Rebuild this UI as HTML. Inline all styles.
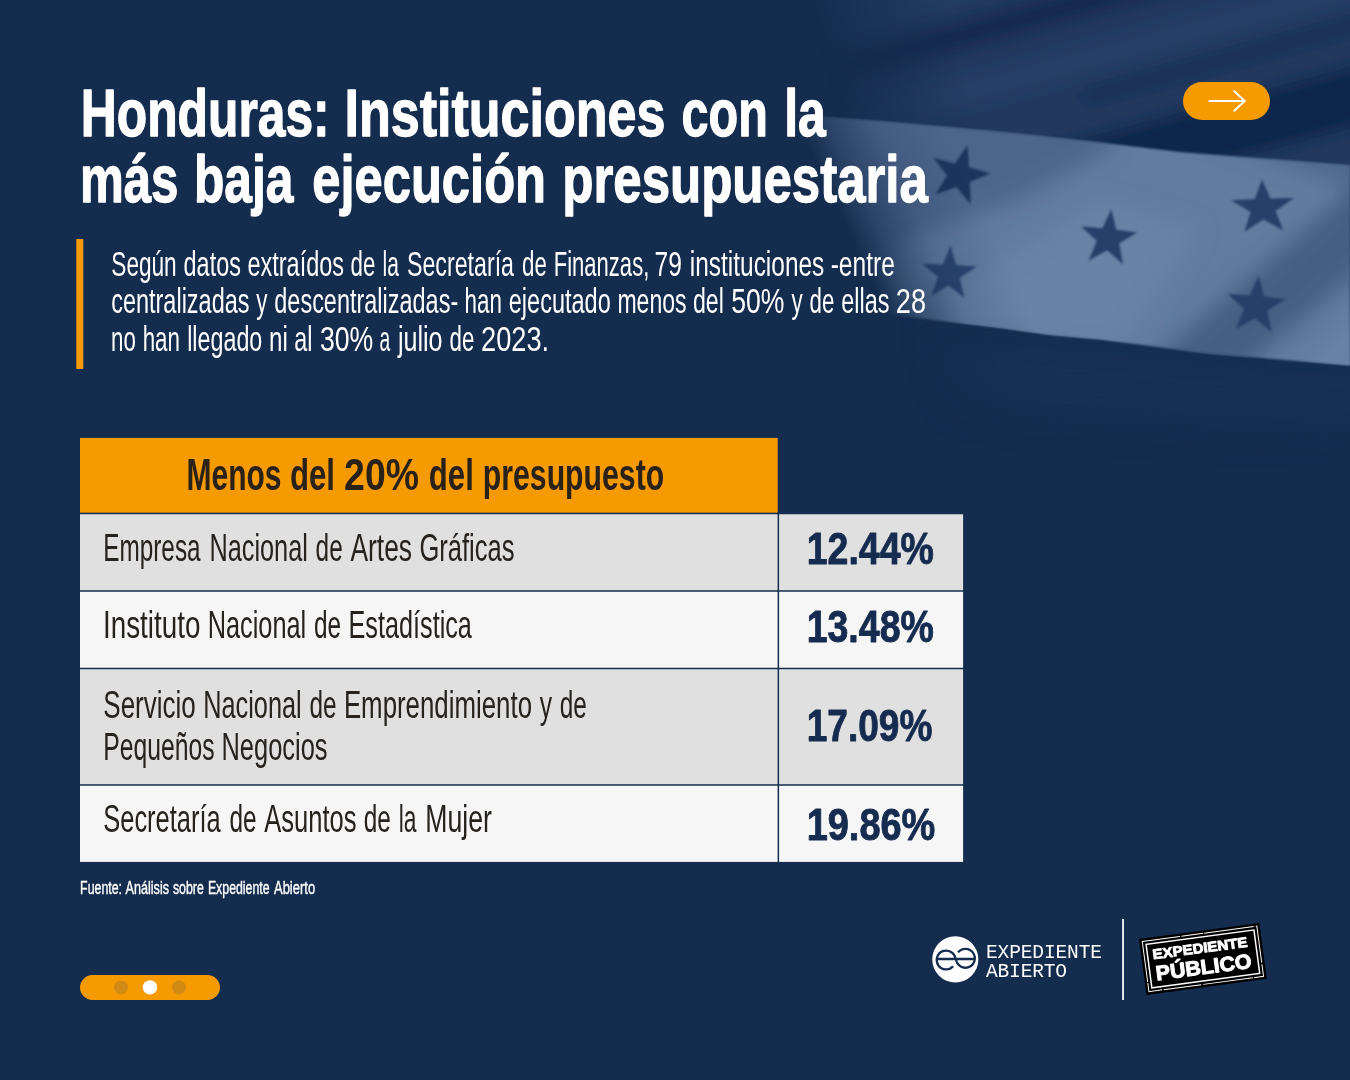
<!DOCTYPE html>
<html lang="es"><head><meta charset="utf-8"><title>Honduras: Instituciones con la más baja ejecución presupuestaria</title>
<style>
html,body{margin:0;padding:0;background:#142c4e;}
body{width:1350px;height:1080px;overflow:hidden;font-family:"Liberation Sans",sans-serif;}
svg{display:block;}
text{white-space:pre;}
</style></head><body>
<svg width="1350" height="1080" viewBox="0 0 1350 1080" font-family="'Liberation Sans', sans-serif">
<rect width="1350" height="1080" fill="#142c4e"/>

<defs>
 <linearGradient id="fadeL" x1="812" y1="20" x2="940" y2="-14" gradientUnits="userSpaceOnUse">
  <stop offset="0" stop-color="#000"/><stop offset="1" stop-color="#fff"/>
 </linearGradient>
 <linearGradient id="fadeD" x1="850" y1="237" x2="968" y2="182" gradientUnits="userSpaceOnUse">
  <stop offset="0" stop-color="#000"/><stop offset="0.22" stop-color="#6a6a6a"/><stop offset="0.55" stop-color="#d0d0d0"/><stop offset="1" stop-color="#fff"/>
 </linearGradient>
 <linearGradient id="fadeB" x1="0" y1="350" x2="0" y2="490" gradientUnits="userSpaceOnUse">
  <stop offset="0" stop-color="#fff"/><stop offset="1" stop-color="#000"/>
 </linearGradient>
 <mask id="mL" maskUnits="userSpaceOnUse" x="600" y="-50" width="800" height="700">
  <rect x="600" y="-50" width="800" height="700" fill="url(#fadeL)"/>
 </mask>
 <mask id="mD" maskUnits="userSpaceOnUse" x="600" y="-50" width="800" height="700">
  <rect x="600" y="-50" width="800" height="700" fill="url(#fadeD)"/>
 </mask>
 <mask id="mB" maskUnits="userSpaceOnUse" x="600" y="-50" width="800" height="700">
  <rect x="600" y="-50" width="800" height="700" fill="url(#fadeB)"/>
 </mask>
 <filter id="b2" filterUnits="userSpaceOnUse" x="600" y="-100" width="900" height="800"><feGaussianBlur stdDeviation="1.0"/></filter>
 <filter id="b8" filterUnits="userSpaceOnUse" x="500" y="-200" width="1100" height="1000"><feGaussianBlur stdDeviation="9"/></filter>
 <filter id="b12" filterUnits="userSpaceOnUse" x="600" y="-100" width="900" height="800"><feGaussianBlur stdDeviation="11"/></filter>
 <filter id="b20" filterUnits="userSpaceOnUse" x="500" y="-200" width="1100" height="1000"><feGaussianBlur stdDeviation="18"/></filter>
 <clipPath id="bandclip"><path d="M760,111 L826,117 L900,123 L1000,132 L1100,142.5 L1180,152 L1350,165.5 L1350,365.5 L1205,353 L1100,339.5 L1050,335 L1000,328 L900,316 L760,303 Z"/></clipPath>
</defs>
<!-- upper & lower blue stripes of the flag -->
<g mask="url(#mL)">
 <g mask="url(#mB)">
  <g filter="url(#b8)">
   <path d="M780,-60 L1450,-60 L1450,200 L780,130 Z" fill="#21395f"/>
   <g transform="rotate(-15)">
    <rect x="650" y="150" width="900" height="100" fill="#243d64"/>
    <rect x="650" y="268" width="900" height="30" fill="#142c4e"/>
    <rect x="650" y="322" width="900" height="34" fill="#253e65"/>
    <rect x="1020" y="366" width="500" height="16" fill="#172f53"/>
    <rect x="650" y="414" width="900" height="60" fill="#11284a"/>
   </g>
  </g>
  <g filter="url(#b20)" opacity="0.45">
   <path d="M900,335 L1450,385 L1450,450 L900,410 Z" fill="#1f3860"/>
  </g>
 </g>
</g>
<!-- light middle band with stars -->
<g mask="url(#mD)">
  <g filter="url(#b2)">
   <path d="M760,111 L826,117 L900,123 L1000,132 L1100,142.5 L1180,152 L1350,165.5 L1350,365.5 L1205,353 L1100,339.5 L1050,335 L1000,328 L900,316 L760,303 Z" fill="#627b9f"/>
  </g>
  <g clip-path="url(#bandclip)">
   <g filter="url(#b12)">
    <path d="M760,90 L1140,90 L1110,150 L1010,205 L900,240 L850,310 L760,330 Z" fill="#3a5278" opacity="0.52"/>
    <path d="M1135,375 L1235,375 L1380,255 L1380,165 Z" fill="#3a5076" opacity="0.68"/>
    <path d="M1190,130 L1380,150 L1380,200 Z" fill="#435b82" opacity="0.6"/>
    <path d="M940,300 L1100,200 L1200,230 L1120,350 L960,340 Z" fill="#6f88ac" opacity="0.5"/>
    <path d="M1280,390 L1380,290 L1380,390 Z" fill="#6f88ac" opacity="0.5"/>
   </g>
   <g filter="url(#b2)">
    <polygon fill="#1d345c" points="967.5,145.1 969.1,167.2 990.5,173.4 969.9,181.8 970.6,203.9 956.3,187.0 935.4,194.5 947.1,175.6 933.5,158.1 955.1,163.4"/>
    <polygon fill="#2b4570" points="950.5,245.5 956.2,265.1 976.5,266.6 959.6,278.1 964.5,297.9 948.4,285.4 931.1,296.1 938.0,277.0 922.4,263.8 942.8,264.4"/>
    <polygon fill="#263f69" points="1111.4,209.2 1116.2,229.7 1137.2,232.4 1119.1,243.3 1123.0,264.0 1107.1,250.2 1088.6,260.4 1096.8,241.0 1081.4,226.5 1102.4,228.3"/>
    <polygon fill="#263f69" points="1262.0,179.5 1270.4,198.5 1294.1,198.1 1275.7,211.1 1283.2,230.4 1263.4,219.4 1244.4,231.7 1250.6,212.0 1231.3,200.3 1254.9,199.1"/>
    <polygon fill="#263f69" points="1258.7,275.6 1264.0,296.8 1285.7,299.1 1267.2,310.8 1271.7,332.1 1254.9,318.2 1236.0,329.0 1244.1,308.7 1227.9,294.1 1249.7,295.5"/>
   </g>
  </g>
</g>


<rect x="76.3" y="239" width="7" height="130" fill="#f69a02"/>
<rect x="1183" y="82" width="87" height="38" rx="19" fill="#f69a02"/>
<path d="M1209.5,101 H1244.5 M1234.3,91.2 L1244.8,101 L1234.3,110.8" fill="none" stroke="#fff" stroke-width="2" stroke-linecap="round" stroke-linejoin="miter"/>
<rect x="80" y="975" width="140" height="25" rx="12.5" fill="#f69a02"/>
<circle cx="121" cy="987.4" r="7" fill="#d18a14"/>
<circle cx="150" cy="987.4" r="7.2" fill="#ffffff"/>
<circle cx="179" cy="987.4" r="7" fill="#d18a14"/>


<rect x="80" y="437.9" width="697.7" height="75" fill="#f69a02"/>
<rect x="80" y="513" width="883.1" height="78" fill="#e0e0e0"/>
<rect x="80" y="591" width="883.1" height="77.5" fill="#f6f6f6"/>
<rect x="80" y="668.4" width="883.1" height="116.6" fill="#e0e0e0"/>
<rect x="80" y="784.9" width="883.1" height="77" fill="#f6f6f6"/>
<g stroke="#142c4e" stroke-width="1.5" fill="none">
 <line x1="79" y1="513.55" x2="964" y2="513.55"/>
 <line x1="79" y1="591.05" x2="964" y2="591.05"/>
 <line x1="79" y1="668.4" x2="964" y2="668.4"/>
 <line x1="79" y1="784.9" x2="964" y2="784.9"/>
 <line x1="778.35" y1="512.8" x2="778.35" y2="863"/>
</g>

<g id="title" font-size="67.5" font-weight="700" fill="#ffffff" stroke="#ffffff" stroke-width="1.3" stroke-linejoin="round">
<text y="135.9"><tspan x="80.8" textLength="248.9" lengthAdjust="spacingAndGlyphs">Honduras:</tspan> <tspan x="344.5" textLength="321.0" lengthAdjust="spacingAndGlyphs">Instituciones</tspan> <tspan x="681.5" textLength="86.3" lengthAdjust="spacingAndGlyphs">con</tspan> <tspan x="784.2" textLength="41.6" lengthAdjust="spacingAndGlyphs">la</tspan></text>
<text y="202.1"><tspan x="79.9" textLength="98.6" lengthAdjust="spacingAndGlyphs">más</tspan> <tspan x="194.0" textLength="99.5" lengthAdjust="spacingAndGlyphs">baja</tspan> <tspan x="312.2" textLength="233.9" lengthAdjust="spacingAndGlyphs">ejecución</tspan> <tspan x="562.3" textLength="365.6" lengthAdjust="spacingAndGlyphs">presupuestaria</tspan></text>
</g>
<g id="para" font-size="35.0" font-weight="400" fill="#ffffff">
<text y="275.9"><tspan x="111.3" textLength="65.4" lengthAdjust="spacingAndGlyphs">Según</tspan> <tspan x="183.6" textLength="57.3" lengthAdjust="spacingAndGlyphs">datos</tspan> <tspan x="247.4" textLength="96.7" lengthAdjust="spacingAndGlyphs">extraídos</tspan> <tspan x="350.6" textLength="24.8" lengthAdjust="spacingAndGlyphs">de</tspan> <tspan x="382.6" textLength="16.3" lengthAdjust="spacingAndGlyphs">la</tspan> <tspan x="407.0" textLength="107.0" lengthAdjust="spacingAndGlyphs">Secretaría</tspan> <tspan x="522.1" textLength="24.8" lengthAdjust="spacingAndGlyphs">de</tspan> <tspan x="553.7" textLength="95.6" lengthAdjust="spacingAndGlyphs">Finanzas,</tspan> <tspan x="654.6" textLength="27.4" lengthAdjust="spacingAndGlyphs">79</tspan> <tspan x="689.8" textLength="134.5" lengthAdjust="spacingAndGlyphs">instituciones</tspan> <tspan x="830.7" textLength="64.2" lengthAdjust="spacingAndGlyphs">-entre</tspan></text>
<text y="313.4"><tspan x="111.2" textLength="138.3" lengthAdjust="spacingAndGlyphs">centralizadas</tspan> <tspan x="256.2" textLength="11.2" lengthAdjust="spacingAndGlyphs">y</tspan> <tspan x="274.3" textLength="183.9" lengthAdjust="spacingAndGlyphs">descentralizadas-</tspan> <tspan x="464.6" textLength="37.3" lengthAdjust="spacingAndGlyphs">han</tspan> <tspan x="508.8" textLength="101.9" lengthAdjust="spacingAndGlyphs">ejecutado</tspan> <tspan x="617.4" textLength="69.2" lengthAdjust="spacingAndGlyphs">menos</tspan> <tspan x="693.0" textLength="30.9" lengthAdjust="spacingAndGlyphs">del</tspan> <tspan x="731.3" textLength="53.2" lengthAdjust="spacingAndGlyphs">50%</tspan> <tspan x="791.5" textLength="11.2" lengthAdjust="spacingAndGlyphs">y</tspan> <tspan x="809.6" textLength="24.8" lengthAdjust="spacingAndGlyphs">de</tspan> <tspan x="841.2" textLength="48.2" lengthAdjust="spacingAndGlyphs">ellas</tspan> <tspan x="895.8" textLength="30.2" lengthAdjust="spacingAndGlyphs">28</tspan></text>
<text y="350.9"><tspan x="111.1" textLength="24.8" lengthAdjust="spacingAndGlyphs">no</tspan> <tspan x="142.7" textLength="37.3" lengthAdjust="spacingAndGlyphs">han</tspan> <tspan x="187.2" textLength="75.1" lengthAdjust="spacingAndGlyphs">llegado</tspan> <tspan x="269.0" textLength="18.8" lengthAdjust="spacingAndGlyphs">ni</tspan> <tspan x="294.3" textLength="18.2" lengthAdjust="spacingAndGlyphs">al</tspan> <tspan x="319.9" textLength="53.4" lengthAdjust="spacingAndGlyphs">30%</tspan> <tspan x="379.6" textLength="10.7" lengthAdjust="spacingAndGlyphs">a</tspan> <tspan x="397.9" textLength="44.7" lengthAdjust="spacingAndGlyphs">julio</tspan> <tspan x="449.5" textLength="24.8" lengthAdjust="spacingAndGlyphs">de</tspan> <tspan x="481.0" textLength="68.2" lengthAdjust="spacingAndGlyphs">2023.</tspan></text>
</g>
<g id="hd" font-size="44.0" font-weight="700" fill="#2a2118">
<text y="490.3"><tspan x="186.5" textLength="95.0" lengthAdjust="spacingAndGlyphs">Menos</tspan> <tspan x="290.0" textLength="45.0" lengthAdjust="spacingAndGlyphs">del</tspan> <tspan x="344.1" textLength="74.8" lengthAdjust="spacingAndGlyphs">20%</tspan> <tspan x="428.8" textLength="45.0" lengthAdjust="spacingAndGlyphs">del</tspan> <tspan x="482.8" textLength="181.4" lengthAdjust="spacingAndGlyphs">presupuesto</tspan></text>
</g>
<g id="c1" font-size="39.0" font-weight="400" fill="#26221e">
<text y="560.9"><tspan x="103.2" textLength="97.4" lengthAdjust="spacingAndGlyphs">Empresa</tspan> <tspan x="209.4" textLength="98.5" lengthAdjust="spacingAndGlyphs">Nacional</tspan> <tspan x="315.6" textLength="27.1" lengthAdjust="spacingAndGlyphs">de</tspan> <tspan x="350.4" textLength="61.7" lengthAdjust="spacingAndGlyphs">Artes</tspan> <tspan x="419.4" textLength="95.1" lengthAdjust="spacingAndGlyphs">Gráficas</tspan></text>
</g>
<g id="c2" font-size="39.0" font-weight="400" fill="#26221e">
<text y="637.9"><tspan x="103.0" textLength="97.4" lengthAdjust="spacingAndGlyphs">Instituto</tspan> <tspan x="207.7" textLength="98.5" lengthAdjust="spacingAndGlyphs">Nacional</tspan> <tspan x="313.9" textLength="27.1" lengthAdjust="spacingAndGlyphs">de</tspan> <tspan x="348.5" textLength="123.4" lengthAdjust="spacingAndGlyphs">Estadística</tspan></text>
</g>
<g id="c3" font-size="39.0" font-weight="400" fill="#26221e">
<text y="717.9"><tspan x="103.3" textLength="92.5" lengthAdjust="spacingAndGlyphs">Servicio</tspan> <tspan x="203.2" textLength="98.5" lengthAdjust="spacingAndGlyphs">Nacional</tspan> <tspan x="309.4" textLength="27.1" lengthAdjust="spacingAndGlyphs">de</tspan> <tspan x="343.9" textLength="188.1" lengthAdjust="spacingAndGlyphs">Emprendimiento</tspan> <tspan x="539.8" textLength="12.3" lengthAdjust="spacingAndGlyphs">y</tspan> <tspan x="559.7" textLength="27.1" lengthAdjust="spacingAndGlyphs">de</tspan></text>
<text y="759.9"><tspan x="103.2" textLength="111.3" lengthAdjust="spacingAndGlyphs">Pequeños</tspan> <tspan x="221.5" textLength="106.0" lengthAdjust="spacingAndGlyphs">Negocios</tspan></text>
</g>
<g id="c4" font-size="39.0" font-weight="400" fill="#26221e">
<text y="831.9"><tspan x="103.3" textLength="117.3" lengthAdjust="spacingAndGlyphs">Secretaría</tspan> <tspan x="229.4" textLength="27.1" lengthAdjust="spacingAndGlyphs">de</tspan> <tspan x="264.3" textLength="92.2" lengthAdjust="spacingAndGlyphs">Asuntos</tspan> <tspan x="363.7" textLength="27.1" lengthAdjust="spacingAndGlyphs">de</tspan> <tspan x="398.7" textLength="17.8" lengthAdjust="spacingAndGlyphs">la</tspan> <tspan x="425.2" textLength="66.7" lengthAdjust="spacingAndGlyphs">Mujer</tspan></text>
</g>
<g id="n1" font-size="45.0" font-weight="700" fill="#152b4f" stroke="#152b4f" stroke-width="0.9" stroke-linejoin="round">
<text y="564.1"><tspan x="806.7" textLength="127.2" lengthAdjust="spacingAndGlyphs">12.44%</tspan></text>
</g>
<g id="n2" font-size="45.0" font-weight="700" fill="#152b4f" stroke="#152b4f" stroke-width="0.9" stroke-linejoin="round">
<text y="642.1"><tspan x="806.7" textLength="127.1" lengthAdjust="spacingAndGlyphs">13.48%</tspan></text>
</g>
<g id="n3" font-size="45.0" font-weight="700" fill="#152b4f" stroke="#152b4f" stroke-width="0.9" stroke-linejoin="round">
<text y="741.1"><tspan x="806.7" textLength="125.7" lengthAdjust="spacingAndGlyphs">17.09%</tspan></text>
</g>
<g id="n4" font-size="45.0" font-weight="700" fill="#152b4f" stroke="#152b4f" stroke-width="0.9" stroke-linejoin="round">
<text y="840.1"><tspan x="806.7" textLength="128.6" lengthAdjust="spacingAndGlyphs">19.86%</tspan></text>
</g>
<g id="src" font-size="17.6" font-weight="400" fill="#ffffff" stroke="#ffffff" stroke-width="0.4" stroke-linejoin="round">
<text y="893.9"><tspan x="80.1" textLength="41.9" lengthAdjust="spacingAndGlyphs">Fuente:</tspan> <tspan x="125.6" textLength="43.4" lengthAdjust="spacingAndGlyphs">Análisis</tspan> <tspan x="172.9" textLength="30.9" lengthAdjust="spacingAndGlyphs">sobre</tspan> <tspan x="207.9" textLength="61.7" lengthAdjust="spacingAndGlyphs">Expediente</tspan> <tspan x="274.0" textLength="41.1" lengthAdjust="spacingAndGlyphs">Abierto</tspan></text>
</g>

<circle cx="955.3" cy="959.4" r="23.05" fill="#fff"/>
<g fill="none" stroke="#142c4e" stroke-width="2.3" stroke-linecap="butt">
 <path d="M936.7,959 H974.8"/>
 <path d="M955.45,959 A9.4,9.4 0 1 0 953.1,966.3"/>
 <path d="M956.05,959 A9.4,9.4 0 1 0 958.1,952.4"/>
</g>
<g font-family="'Liberation Mono', monospace" font-size="19.5" fill="#fff">
 <text x="986" y="958" textLength="116" lengthAdjust="spacing">EXPEDIENTE</text>
 <text x="986" y="977.2" textLength="81" lengthAdjust="spacing">ABIERTO</text>
</g>
<rect x="1122.1" y="919" width="1.9" height="81" fill="#e9edf3"/>
<g transform="translate(1202.9,958.9) rotate(-7.6)">
 <rect x="-60.7" y="-28.2" width="121.4" height="56.4" fill="#000"/>
 <rect x="-57.8" y="-25.3" width="115.6" height="50.6" fill="none" stroke="#fff" stroke-width="1.0" stroke-dasharray="38 1.5 22 1 50 2"/>
 <rect x="-54.4" y="-21.9" width="108.8" height="43.8" fill="none" stroke="#fff" stroke-width="1.5"/>
 <g font-weight="700" fill="#fff" stroke="#fff" stroke-linejoin="round">
  <text x="-49.2" y="-6.2" font-size="14" stroke-width="0.9" textLength="95.4" lengthAdjust="spacingAndGlyphs">EXPEDIENTE</text>
  <text x="-48.6" y="15.3" font-size="20.6" stroke-width="1.0" textLength="96.3" lengthAdjust="spacingAndGlyphs">PÚBLICO</text>
 </g>
</g>

</svg>
</body></html>
